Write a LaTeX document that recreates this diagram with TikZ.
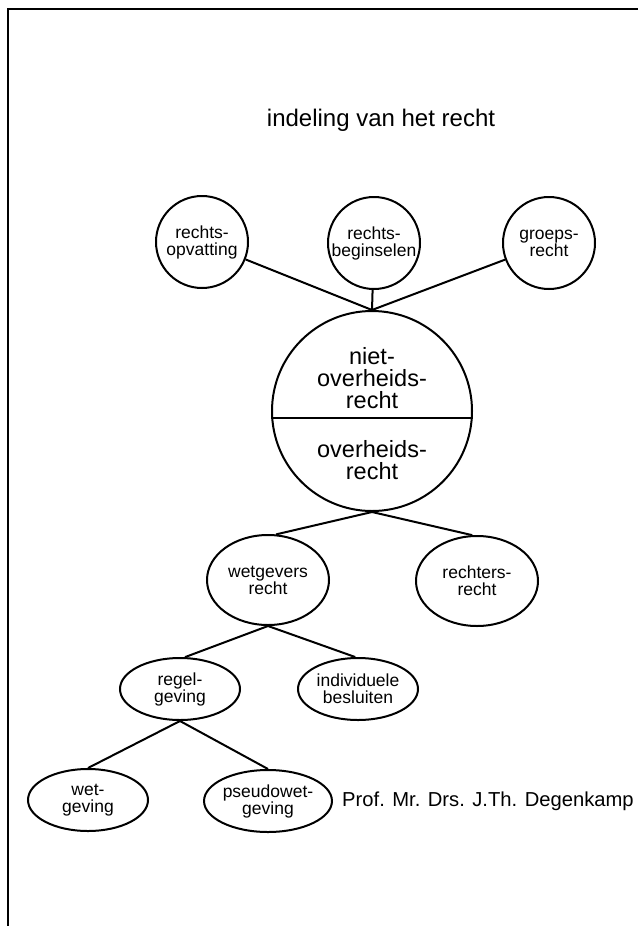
\documentclass[tikz,border=0pt]{standalone}
\usepackage{fontspec}
\setmainfont{Liberation Sans}
\usetikzlibrary{shapes.geometric}

\begin{document}
\begin{tikzpicture}[x=1pt, y=-1pt,
    circ/.style={draw, circle, line width=2pt, minimum size=92pt, inner sep=0pt, align=center, font=\fontsize{17.5}{17}\selectfont},
    ell/.style={draw, ellipse, line width=2pt, inner sep=0pt, align=center, font=\fontsize{17.5}{17}\selectfont},
    bigtext/.style={align=center, inner sep=0pt, font=\fontsize{23.5}{22}\selectfont},
    link/.style={line width=2pt}]
      \useasboundingbox (0,0) rectangle (638,926);

      % Frame
      \draw[line width=2pt] (8,926) -- (8,9) -- (638,9);

      % Nodes
      \node[font=\fontsize{24}{24}\selectfont] (title) at (381,120) {indeling van het recht};
      \node[circ] (opv) at (202,242) {rechts-\\opvatting};
      \node[circ] (begin) at (374,243) {rechts-\\beginselen};
      \node[circ] (groep) at (549,243) {groeps-\\recht};
      \node[circ, minimum size=200pt] (big) at (372,411) {};
      \node[bigtext] (niet) at (372,378) {niet-\\overheids-\\recht};
      \node[bigtext] (overh) at (372,460) {overheids-\\recht};
      \node[ell, minimum width=122pt, minimum height=90pt] (wetg) at (268,580) {wetgevers\\recht};
      \node[ell, minimum width=122pt, minimum height=90pt] (rechters) at (477,581) {rechters-\\recht};
      \node[ell, minimum width=120pt, minimum height=62pt] (regel) at (180,689) {regel-\\geving};
      \node[ell, minimum width=120pt, minimum height=62pt] (indiv) at (358,689) {individuele\\besluiten};
      \node[ell, minimum width=120pt, minimum height=62pt] (wet) at (88,800) {wet-\\geving};
      \node[ell, minimum width=120pt, minimum height=62pt] (pseudo) at (268,801) {pseudowet-\\geving};
      \node[font=\fontsize{20.2}{21}\selectfont, anchor=west, inner sep=0pt] (auteur) at (342,801) {Prof. Mr. Drs. J.Th. Degenkamp};

      % Lines
      \draw[link] (big.north) -- (opv);
      \draw[link] (big.north) -- (begin);
      \draw[link] (big.north) -- (groep);
      \draw[link] (big.184.6) -- (big.-4.6);
      \draw[link] (big.south) -- (wetg.80);
      \draw[link] (big.south) -- (rechters.96);
      \draw[link] (wetg.south) -- (regel.81);
      \draw[link] (wetg.south) -- (indiv.95);
      \draw[link] (regel.south) -- (wet.north);
      \draw[link] (regel.south) -- (pseudo.north);
    \end{tikzpicture}
\end{document}
